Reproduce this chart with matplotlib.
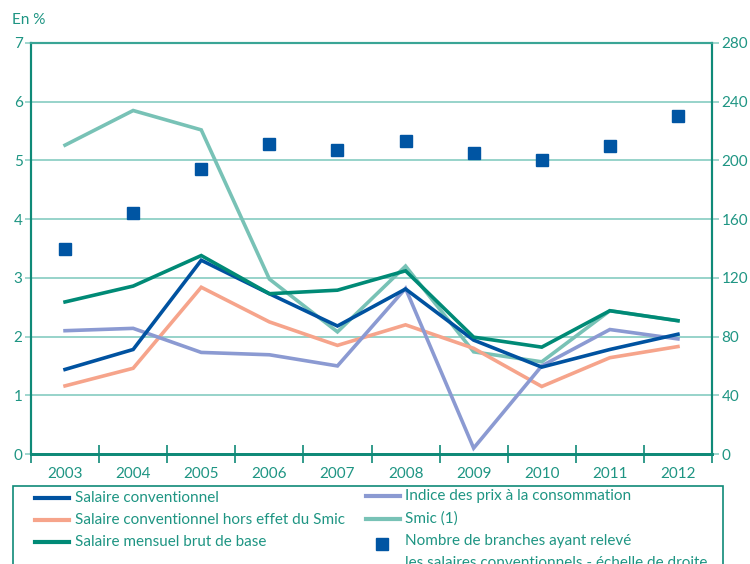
import matplotlib
matplotlib.use("Agg")
import matplotlib.pyplot as plt
from matplotlib.lines import Line2D
from matplotlib.patches import Rectangle

plt.rcParams['font.family'] = ['Lato', 'DejaVu Sans']

years = [2003, 2004, 2005, 2006, 2007, 2008, 2009, 2010, 2011, 2012]
salaire_conv = [1.44, 1.78, 3.30, 2.73, 2.18, 2.81, 1.94, 1.48, 1.78, 2.04]
salaire_hors_smic = [1.16, 1.46, 2.84, 2.25, 1.85, 2.20, 1.80, 1.15, 1.64, 1.83]
salaire_mensuel = [2.59, 2.86, 3.38, 2.73, 2.79, 3.12, 1.99, 1.82, 2.44, 2.27]
indice_prix = [2.10, 2.14, 1.73, 1.69, 1.50, 2.82, 0.10, 1.50, 2.12, 1.96]
smic = [5.26, 5.85, 5.52, 2.98, 2.08, 3.20, 1.74, 1.57, 2.44, 2.27]
nb_branches = [140, 164, 194, 211, 207, 213, 205, 200, 210, 230]

left_ticks = [0, 1, 2, 3, 4, 5, 6, 7]
right_ticks = [0, 40, 80, 120, 160, 200, 240, 280]

TEXT = '#1e9583'
AXIS = '#0f8a78'
GRID = '#8fd0c6'
C_CONV = '#0052a0'
C_HORS = '#f6a48b'
C_MENS = '#008a76'
C_PRIX = '#8b9ad2'
C_SMIC = '#78c2b6'
C_SQ = '#0055a3'

W, H = 750, 564
fig = plt.figure(figsize=(7.5, 5.64), dpi=100)
ax_l, ax_r, ax_t, ax_b = 31, 712, 43, 454
ax = fig.add_axes([ax_l / W, 1 - ax_b / H, (ax_r - ax_l) / W, (ax_b - ax_t) / H])
ax2 = ax.twinx()

fs = 11

lw = 2.6
ax.plot(years, smic, color=C_SMIC, lw=lw, zorder=3, solid_joinstyle='miter')
ax.plot(years, salaire_hors_smic, color=C_HORS, lw=lw, zorder=3, solid_joinstyle='miter')
ax.plot(years, indice_prix, color=C_PRIX, lw=lw, zorder=3, solid_joinstyle='miter')
ax.plot(years, salaire_conv, color=C_CONV, lw=lw, zorder=4, solid_joinstyle='miter')
ax.plot(years, salaire_mensuel, color=C_MENS, lw=lw, zorder=4, solid_joinstyle='miter')
ax2.plot(years, nb_branches, ls='none', marker='s', markersize=8.5, color=C_SQ)

ax.set_xlim(2002.5, 2012.5)
ax.set_ylim(0, 7)
ax2.set_ylim(0, 280)
ax.set_yticks(left_ticks)
ax2.set_yticks(right_ticks)
ax.set_yticklabels([str(v) for v in left_ticks])
ax2.set_yticklabels([str(v) for v in right_ticks])

# grid
for v in left_ticks[1:]:
    ax.axhline(v, color=GRID, lw=1.3, zorder=1)

# x ticks: labels at year centres, tick marks at boundaries
ax.set_xticks(years)
ax.set_xticklabels([str(y) for y in years])
ax.set_xticks([y - 0.5 for y in years] + [years[-1] + 0.5], minor=True)
ax.tick_params(axis='x', which='major', length=0, labelsize=fs, labelcolor=TEXT, pad=9)
ax.tick_params(axis='x', which='minor', length=13, width=1.2, color=AXIS, direction='inout')
ax.tick_params(axis='y', length=4, width=1.2, color=GRID, labelsize=fs, labelcolor=TEXT, pad=2)
ax2.tick_params(axis='y', length=5, width=1.2, color=GRID, labelsize=fs, labelcolor=TEXT, pad=2)

for a in (ax, ax2):
    a.spines['left'].set_color(AXIS)
    a.spines['right'].set_color(AXIS)
    a.spines['bottom'].set_color(AXIS)
    a.spines['top'].set_color('#3aa596')
    a.spines['left'].set_linewidth(1.5)
    a.spines['right'].set_linewidth(1.5)
    a.spines['bottom'].set_linewidth(2)
    a.spines['top'].set_linewidth(1.5)

fig.text(12 / W, 1 - 20 / H, 'En %', color=TEXT, fontsize=fs, va='center', ha='left')

# legend (drawn manually in figure coordinates)
fig.patches.append(Rectangle((13 / W, 1 - 600 / H), (723 - 13) / W, (600 - 486) / H,
                             transform=fig.transFigure, fill=False, ec=AXIS, lw=1.2))

def fx(x):
    return x / W

def fy(y):
    return 1 - y / H

legend_items = [
    ('Salaire conventionnel', C_CONV, 35, 75, 498),
    ('Salaire conventionnel hors effet du Smic', C_HORS, 35, 75, 520),
    ('Salaire mensuel brut de base', C_MENS, 35, 75, 542),
    ('Indice des prix à la consommation', C_PRIX, 366, 405, 496),
    ('Smic (1)', C_SMIC, 366, 405, 519),
]
for label, col, lx, tx, y in legend_items:
    fig.lines.append(Line2D([fx(lx), fx(lx + 34)], [fy(y), fy(y)], transform=fig.transFigure,
                            color=col, lw=3))
    fig.text(fx(tx), fy(y), label, color=TEXT, fontsize=fs, va='center', ha='left')

fig.lines.append(Line2D([fx(382)], [fy(544)], transform=fig.transFigure, ls='none',
                        marker='s', markersize=8.5, color=C_SQ))
fig.text(fx(405), fy(541), 'Nombre de branches ayant relevé', color=TEXT, fontsize=fs,
         va='center', ha='left')
fig.text(fx(405), fy(563), 'les salaires conventionnels - échelle de droite', color=TEXT,
         fontsize=fs, va='center', ha='left')

fig.savefig('out.png', dpi=100)
